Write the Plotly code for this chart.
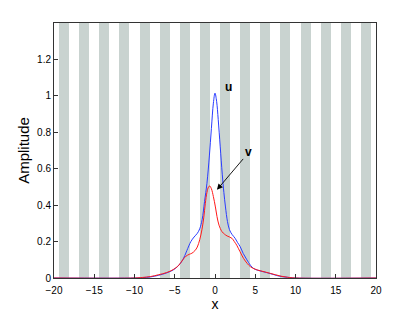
import plotly.graph_objects as go

# background stripe centres (x units) and their height
stripe_centers = [-18.75, -16.25, -13.75, -11.25, -8.75, -6.25, -3.75, -1.25,
                  1.25, 3.75, 6.25, 8.75, 11.25, 13.75, 16.25, 18.75]
stripe_height = [1.4] * len(stripe_centers)

# curve u (blue)
u_x = [-20, -10, -9, -8, -7, -6, -5.2, -4.6, -4, -3.5, -3, -2.6, -2.2, -1.9, -1.6,
       -1.3, -1.0, -0.7, -0.45, -0.2, 0, 0.2, 0.4, 0.65, 0.9, 1.1, 1.3, 1.55, 1.8,
       2.1, 2.5, 2.8, 3.13, 3.5, 3.96, 4.4, 4.8, 5.5, 6.4, 7.2, 8, 9, 10, 20]
u_y = [0, 0, 0.002, 0.006, 0.015, 0.028, 0.044, 0.065, 0.1, 0.15, 0.2, 0.225, 0.245,
       0.27, 0.32, 0.42, 0.52, 0.67, 0.82, 0.96, 1.015, 0.97, 0.87, 0.72, 0.57, 0.47,
       0.39, 0.31, 0.265, 0.24, 0.218, 0.195, 0.172, 0.135, 0.1, 0.07, 0.052, 0.04,
       0.03, 0.02, 0.01, 0.004, 0, 0]

# curve v (red)
v_x = [-20, -10, -9, -8, -7, -6, -5.2, -4.5, -4, -3.6, -3.2, -2.87, -2.5, -2.2, -1.9,
       -1.63, -1.4, -1.2, -1.0, -0.8, -0.65, -0.45, -0.2, 0.05, 0.25, 0.5, 0.86, 1.2,
       1.5, 2.1, 2.4, 2.7, 3.1, 3.54, 4, 4.4, 5, 5.6, 6.3, 6.9, 7.5, 8.2, 9, 10, 20]
v_y = [0, 0, 0.003, 0.008, 0.018, 0.03, 0.046, 0.07, 0.1, 0.12, 0.13, 0.136, 0.15,
       0.17, 0.21, 0.264, 0.33, 0.41, 0.47, 0.5, 0.505, 0.49, 0.447, 0.39, 0.337,
       0.29, 0.255, 0.24, 0.231, 0.218, 0.2, 0.18, 0.145, 0.108, 0.08, 0.062, 0.048,
       0.04, 0.032, 0.025, 0.018, 0.01, 0.004, 0, 0]

x_ticks = [-20, -15, -10, -5, 0, 5, 10, 15, 20]
y_ticks = [0, 0.2, 0.4, 0.6, 0.8, 1, 1.2]
y_tick_text = ["0", "0.2", "0.4", "0.6", "0.8", "1", "1.2"]

FONT = "Liberation Sans, Arial, Helvetica, sans-serif"

fig = go.Figure()
fig.add_trace(go.Bar(x=stripe_centers, y=stripe_height, width=1.25,
                     marker=dict(color="#c9d3d0", line=dict(width=0)),
                     hoverinfo="skip", showlegend=False))
fig.add_trace(go.Scatter(x=u_x, y=u_y, mode="lines", line=dict(color="#2a3cff", width=1),
                         line_shape="spline", showlegend=False))
fig.add_trace(go.Scatter(x=v_x, y=v_y, mode="lines", line=dict(color="#ff1a1a", width=1),
                         line_shape="spline", showlegend=False))

fig.add_annotation(x=1.64, y=1.046, text="<b>u</b>", showarrow=False,
                   font=dict(size=12, color="black", family=FONT))
fig.add_annotation(x=4.12, y=0.693, text="<b>v</b>", showarrow=False,
                   font=dict(size=12, color="black", family=FONT))
fig.add_annotation(x=0.24, y=0.484, ax=3.66, ay=0.662, axref="x", ayref="y",
                   text="", showarrow=True, arrowhead=2, arrowsize=1.3,
                   arrowwidth=0.9, arrowcolor="black")

fig.update_layout(
    width=415, height=312,
    margin=dict(l=54, r=39, t=23, b=34),
    paper_bgcolor="white", plot_bgcolor="white",
    font=dict(family=FONT, size=10, color="black"),
    bargap=0,
)
fig.update_xaxes(range=[-20, 20], tickvals=x_ticks, ticks="inside", ticklen=4,
                 tickcolor="#333", showline=True, linecolor="#333", linewidth=1,
                 mirror=True, showgrid=False, zeroline=False, ticklabelstandoff=3,
                 automargin=False,
                 title=dict(text="x", font=dict(size=14), standoff=6),
                 tickfont=dict(size=10))
fig.update_yaxes(range=[0, 1.4], tickvals=y_ticks, ticktext=y_tick_text,
                 ticks="inside", ticklen=4, tickcolor="#333", showline=True,
                 linecolor="#333", linewidth=1, mirror=True, showgrid=False,
                 zeroline=False, automargin=False,
                 title=dict(text="Amplitude", font=dict(size=15), standoff=3),
                 tickfont=dict(size=10))

fig.write_html("out.html", config={"displayModeBar": False},
               post_script="document.body.style.margin='0';")
